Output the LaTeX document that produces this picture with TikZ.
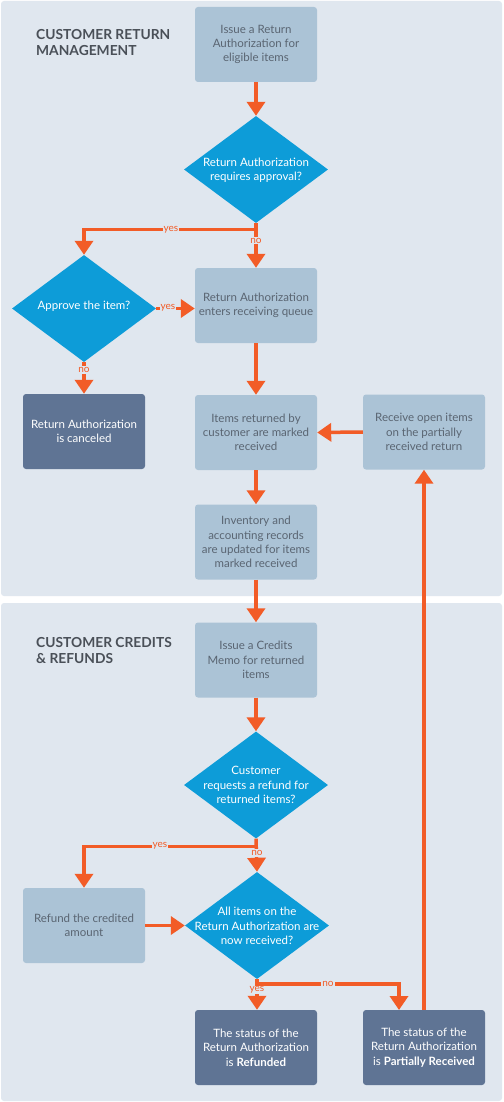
\documentclass[tikz,border=0pt]{standalone}
\usepackage{fontspec}
\setmainfont{Lato}
\usetikzlibrary{arrows.meta,shapes.geometric}
\definecolor{panelbg}{HTML}{E0E7EF}
\definecolor{lightbox}{HTML}{ABC3D6}
\definecolor{darkbox}{HTML}{5F7494}
\definecolor{decis}{HTML}{0D9CD8}
\definecolor{flowc}{HTML}{F25C27}
\definecolor{boxtext}{HTML}{5A6572}
\definecolor{titlec}{HTML}{4A5058}
\tikzset{
  panel/.style={fill=panelbg, draw=none, rounded corners=3pt},
  lbox/.style={rectangle, fill=lightbox, draw=none, rounded corners=3pt, minimum width=122pt, minimum height=75pt, inner sep=0pt, align=center, text=boxtext, font=\fontsize{11.5}{14.3}\selectfont},
  dbox/.style={lbox, fill=darkbox, text=white},
  dshape/.style={diamond, fill=decis, draw=none, minimum width=144pt, minimum height=107pt, inner sep=0pt},
  dtext/.style={align=center, text=white, font=\fontsize{11.5}{14.3}\selectfont, inner sep=0pt},
  flow/.style={draw=flowc, line width=3.5pt, -{Triangle[width=18pt,length=14pt]}},
  lab/.style={text=flowc, font=\fontsize{10}{11}\selectfont, fill=panelbg, inner sep=1pt},
  ttl/.style={anchor=north west, align=left, text=titlec, font=\fontsize{13.8}{16.5}\selectfont\bfseries, inner sep=0pt},
}
\begin{document}
\begin{tikzpicture}[x=1pt,y=-1pt]
\useasboundingbox (0,0) rectangle (503,1102);
\fill[white] (0,0) rectangle (503,1102);
\path[panel] (1,1) rectangle (502,596);
\path[panel] (1,603) rectangle (502,1101);

\node[ttl] (t1) at (36,29) {CUSTOMER RETURN\\MANAGEMENT};
\node[ttl] (t2) at (36,637) {CUSTOMER CREDITS\\\& REFUNDS};

% top section
\node[lbox] (n1) at (256,44.5) {Issue a Return\\Authorization for\\eligible items};
\node[dshape] (d1) at (256,169.5) {};
\node[dtext] (d1t) at (256,170) {Return Authorization\\requires approval?};
\node[lbox] (n2) at (256,305.5) {Return Authorization\\enters receiving queue};
\node[dshape] (d2) at (84,308.5) {};
\node[dtext] (d2t) at (84,306) {Approve the item?};
\node[dbox] (n3) at (84,431.5) {Return Authorization\\is canceled};
\node[lbox] (n4) at (256,432.5) {Items returned by\\customer are marked\\received};
\node[lbox] (n5) at (424,432) {Receive open items\\on the partially\\received return};
\node[lbox] (n6) at (256,542) {Inventory and\\accounting records\\are updated for items\\marked received};

% bottom section
\node[lbox] (n7) at (256,660) {Issue a Credits\\Memo for returned\\items};
\node[dshape] (d3) at (256,785) {};
\node[dtext] (d3t) at (256,785) {Customer\\requests a refund for\\returned items?};
\node[lbox] (n8) at (84,925.5) {Refund the credited\\amount};
\node[dshape] (d4) at (257,925.5) {};
\node[dtext] (d4t) at (257,926) {All items on the\\Return Authorization are\\now received?};
\node[dbox] (n9) at (256,1047.5) {The status of the\\Return Authorization\\is \textbf{Refunded}};
\node[dbox] (n10) at (424,1047.5) {The status of the\\Return Authorization\\is \textbf{Partially Received}};

% connectors
\draw[flow] (n1.south) -- (d1.north);
\coordinate (b1) at (256,229.5);
\draw[flow] (b1) -| (d2.north);
\draw[flow] (d1.south) -- (n2.north);
\node[lab] (l1) at (171,229.5) {yes};
\node[lab] (l2) at (256,240.5) {no};
\draw[flow] (d2.east) -- (n2.west |- d2.east);
\node[lab] (l3) at (168,307.5) {yes};
\draw[flow] (d2.south) -- (n3.north);
\node[lab] (l4) at (84,370) {no};
\draw[flow] (n2.south) -- (n4.north);
\draw[flow] (n5.west) -- (n4.east);
\draw[flow] (n4.south) -- (n6.north);
\draw[flow] (n6.south) -- (n7.north);
\draw[flow] (n7.south) -- (d3.north);
\coordinate (b3) at (256,846.5);
\draw[flow] (b3) -| (n8.north);
\draw[flow] (d3.south) -- (d4.north);
\node[lab] (l5) at (160,846) {yes};
\node[lab] (l6) at (257,853) {no};
\draw[flow] (n8.east) -- (d4.west);
\draw[flow] (d4.south) -- (n9.north -| d4.south);
\node[lab] (l7) at (257,990) {yes};
\coordinate (b4) at (257,984);
\coordinate (e4) at (399,1010);
\draw[flow] (b4) -| (e4);
\node[lab] (l8) at (328,984) {no};
\draw[flow] (n10.north) -- (n5.south);
\end{tikzpicture}
\end{document}
